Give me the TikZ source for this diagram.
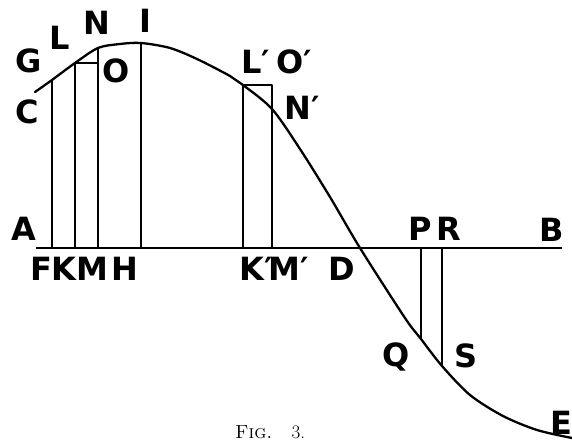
\documentclass[tikz,border=0pt]{standalone}
\usepackage{fontspec}
\newfontfamily\lblfont{DejaVu Sans}
\usetikzlibrary{calc}
\tikzset{
  ln/.style={line width=2.3pt,line cap=round,line join=round},
  axis/.style={line width=2.8pt},
  lbl/.style={font=\lblfont\bfseries\fontsize{32}{32}\selectfont,inner sep=0pt,anchor=base},
}
\begin{document}
\begin{tikzpicture}[x=1pt,y=-1pt]
  \useasboundingbox (0,0) rectangle (572,444);
  % feet on the line AB
  \coordinate (A) at (36,248);
  \coordinate (B) at (562,248);
  \coordinate (F) at (52,248);
  \coordinate (K) at (75,248);
  \coordinate (M) at (98,248);
  \coordinate (H) at (141,248);
  \coordinate (K1) at (243,248);
  \coordinate (M1) at (272,248);
  \coordinate (D) at (360,248);
  \coordinate (P) at (421,248);
  \coordinate (R) at (442,248);
  % points on the curve
  \coordinate (C) at (35,92);
  \coordinate (G) at (52,80);
  \coordinate (L) at (75,63);
  \coordinate (N) at (98,48);
  \coordinate (I) at (141,43);
  \coordinate (L1) at (243,85);
  \coordinate (N1) at (272,109);
  \coordinate (Q) at (421,339);
  \coordinate (S) at (442,366);
  \coordinate (E) at (572,438);
  % corners off the curve
  \coordinate (O) at (98,63);
  \coordinate (O1) at (272,85);

  \draw[axis] (A) -- (B);
  \draw[ln] plot[smooth] coordinates {(C) (G) (L) (N) (120,44) (I) (170,48) (197,59)
    (230,76) (L1) (N1) (300,149) (330,197) (D) (405,318) (Q) (S) (470,395)
    (503,416) (537,430) (E)};
  \draw[ln] (F) -- (G);
  \draw[ln] (K) -- (L) -- (O);
  \draw[ln] (M) -- (N);
  \draw[ln] (H) -- (I);
  \draw[ln] (K1) -- (L1) -- (O1) -- (M1);
  \draw[ln] (P) -- (Q);
  \draw[ln] (R) -- (S);

  % letters
  \node[lbl] (tG) at (29,72) {G};
  \node[lbl] (tL) at (60,49) {L};
  \node[lbl] (tN) at (97,35) {N};
  \node[lbl] (tI) at (145,33) {I};
  \node[lbl] (tO) at (116,82) {O};
  \node[lbl] (tC) at (27,123) {C};
  \node[lbl] (tA) at (24,240) {A};
  \node[lbl] (tF) at (41,280) {F};
  \node[lbl] (tK) at (64,280) {K};
  \node[lbl] (tM) at (92,280) {M};
  \node[lbl] (tH) at (125,280) {H};
  \node[lbl] (tK1) at (256,280) {K′};
  \node[lbl] (tM1) at (289,280) {M′};
  \node[lbl] (tD) at (342,280) {D};
  \node[lbl] (tL1) at (256,73) {L′};
  \node[lbl] (tO1) at (294,74) {O′};
  \node[lbl] (tN1) at (302,119) {N′};
  \node[lbl] (tP) at (420,240) {P};
  \node[lbl] (tR) at (449,240) {R};
  \node[lbl] (tB) at (552,241) {B};
  \node[lbl] (tQ) at (396,366) {Q};
  \node[lbl] (tS) at (466,367) {S};
  \node[lbl] (tE) at (561,434) {E};
  \node[font=\rmfamily\fontsize{19}{19}\selectfont,inner sep=0pt,anchor=base] (cap) at (270,438) {\textsc{Fig.}\quad 3.};
\end{tikzpicture}
\end{document}
